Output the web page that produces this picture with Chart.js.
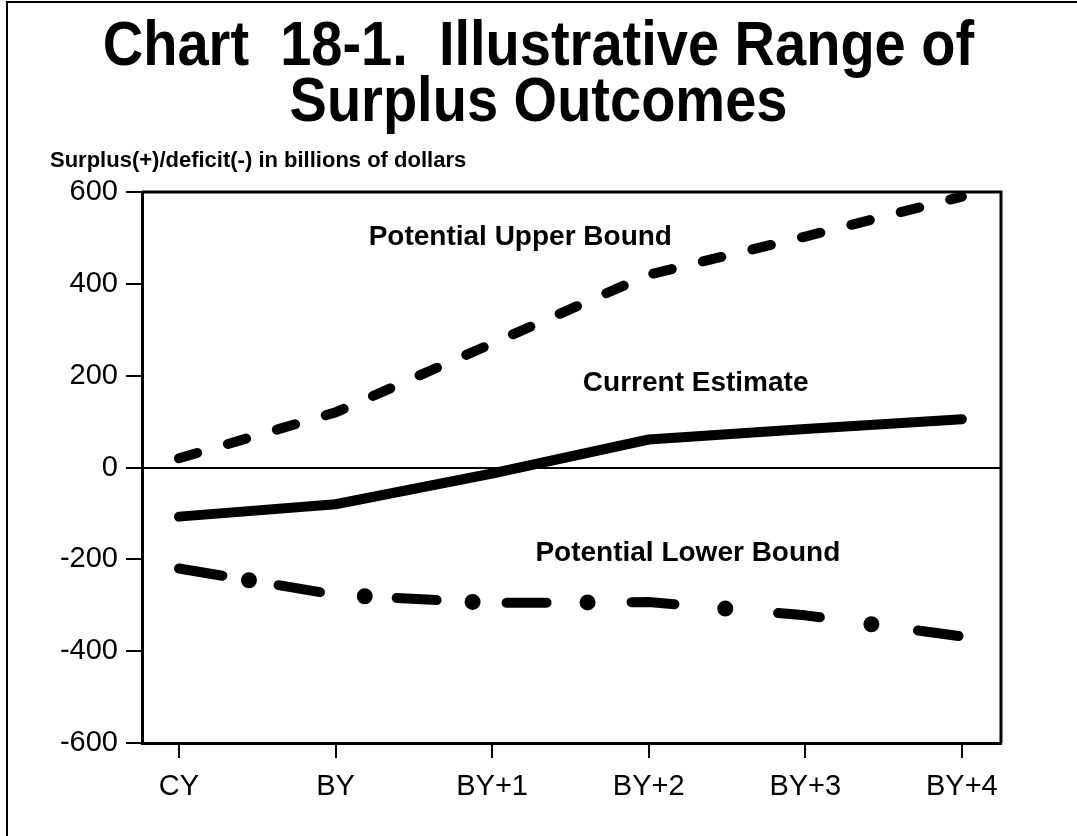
<!DOCTYPE html>
<html>
<head>
<meta charset="utf-8">
<script src="https://cdn.jsdelivr.net/npm/chart.js@4/dist/chart.umd.min.js"></script>
<style>
  html, body { margin: 0; padding: 0; background: #fff; }
  body { width: 1077px; height: 836px; position: relative; overflow: hidden; font-family: 'Liberation Sans', Arial, sans-serif; }
  #frame { position: absolute; left: 6px; top: 1px; width: 1200px; height: 900px; border-left: 2px solid #000; border-top: 2px solid #000; }
  #title { position: absolute; left: 0; top: 16px; width: 1077px; text-align: center; font-weight: bold; font-size: 56px; line-height: 50px; color: #000; transform: scaleY(1.12); transform-origin: 50% 0; }
  #subtitle { position: absolute; left: 50px; top: 149px; font-weight: bold; font-size: 22px; line-height: 22px; color: #000; white-space: nowrap; }
  canvas { position: absolute; left: 0; top: 0; }
</style>
</head>
<body>
<div id="frame"></div>
<canvas id="c" width="1077" height="836"></canvas>
<div id="title">Chart&nbsp; 18-1.&nbsp; Illustrative Range of<br>Surplus Outcomes</div>
<div id="subtitle">Surplus(+)/deficit(-) in billions of dollars</div>
<script>
const categories = ['CY', 'BY', 'BY+1', 'BY+2', 'BY+3', 'BY+4'];
const upperBound = [20, 120, 270, 420, 503, 590];
const currentEstimate = [-107, -80, -13, 61, 84, 105];
const lowerBound = [-220, -277, -295, -293, -322, -368];
const yTicks = [-600, -400, -200, 0, 200, 400, 600];
const seriesLabels = ['Potential Upper Bound', 'Current Estimate', 'Potential Lower Bound'];

const pts = arr => arr.map((v, i) => ({ x: i, y: v }));
const FONT = "'Liberation Sans', Arial, sans-serif";

const boxPlugin = {
  id: 'box',
  afterDraw(chart) {
    const { ctx, chartArea: a } = chart;
    ctx.save();
    ctx.strokeStyle = '#000';
    ctx.lineWidth = 3;
    ctx.beginPath();
    ctx.moveTo(a.left, a.top);
    ctx.lineTo(a.right, a.top);
    ctx.lineTo(a.right, a.bottom);
    ctx.stroke();
    ctx.restore();
  }
};

const labelPlugin = {
  id: 'seriesLabels',
  afterDatasetsDraw(chart, args, opts) {
    const { ctx, scales } = chart;
    ctx.save();
    ctx.fillStyle = '#000';
    ctx.font = 'bold 28px ' + FONT;
    ctx.textAlign = 'center';
    ctx.textBaseline = 'middle';
    opts.items.forEach(it => {
      ctx.fillText(it.text, scales.x.getPixelForValue(it.x), scales.y.getPixelForValue(it.y));
    });
    ctx.restore();
  }
};

new Chart(document.getElementById('c'), {
  type: 'line',
  data: {
    datasets: [
      {
        label: seriesLabels[0],
        data: pts(upperBound),
        borderColor: '#000',
        borderWidth: 10,
        borderDash: [19, 32],
        borderCapStyle: 'round',
        borderJoinStyle: 'round',
        pointRadius: 0,
        tension: 0,
        fill: false
      },
      {
        label: seriesLabels[1],
        data: pts(currentEstimate),
        borderColor: '#000',
        borderWidth: 10,
        borderCapStyle: 'round',
        borderJoinStyle: 'round',
        pointRadius: 0,
        tension: 0,
        fill: false
      },
      {
        label: seriesLabels[2],
        data: pts(lowerBound),
        borderColor: '#000',
        borderWidth: 10,
        borderDash: [44, 57, 42, 77, 40, 70, 40, 85, 43, 104, 42, 99, 41, 1000],
        borderCapStyle: 'round',
        borderJoinStyle: 'round',
        pointRadius: 0,
        tension: 0,
        fill: false
      },
      {
        label: seriesLabels[2] + ' (dots)',
        data: pts(lowerBound),
        borderColor: '#000',
        borderWidth: 16,
        borderDash: [0, 117, 0, 108, 0, 115, 0, 138, 0, 147, 0, 1000],
        borderDashOffset: -71,
        borderCapStyle: 'round',
        borderJoinStyle: 'round',
        pointRadius: 0,
        tension: 0,
        fill: false
      }
    ]
  },
  options: {
    responsive: false,
    animation: false,
    devicePixelRatio: 1,
    layout: { padding: { top: 192, right: 76, left: 0, bottom: 0 } },
    plugins: {
      legend: { display: false },
      tooltip: { enabled: false },
      title: { display: false },
      seriesLabels: {
        items: [
          { text: seriesLabels[0], x: 2.18, y: 502 },
          { text: seriesLabels[1], x: 3.30, y: 184 },
          { text: seriesLabels[2], x: 3.25, y: -186 }
        ]
      }
    },
    scales: {
      x: {
        type: 'linear',
        min: -0.236,
        max: 5.25,
        afterFit(scale) { scale.height = 93; },
        afterBuildTicks(scale) { scale.ticks = categories.map((c, i) => ({ value: i })); },
        ticks: {
          autoSkip: false,
          maxRotation: 0,
          padding: 12,
          color: '#000',
          font: { family: FONT, size: 29 },
          callback: v => categories[v]
        },
        grid: { drawOnChartArea: false, tickLength: 15, tickColor: '#000', tickWidth: 2, lineWidth: 2, color: '#000' },
        border: { display: true, color: '#000', width: 3 }
      },
      y: {
        type: 'linear',
        min: -600,
        max: 600,
        afterFit(scale) { scale.width = 142; },
        afterBuildTicks(scale) { scale.ticks = yTicks.map(v => ({ value: v })); },
        ticks: {
          padding: 8,
          color: '#000',
          font: { family: FONT, size: 29 },
          callback: v => String(v)
        },
        grid: {
          drawOnChartArea: true,
          tickLength: 16,
          tickColor: '#000',
          tickWidth: 2,
          lineWidth: 2,
          color: ctx => (ctx.tick && ctx.tick.value === 0) ? '#000' : 'rgba(0,0,0,0)'
        },
        border: { display: true, color: '#000', width: 3 }
      }
    }
  },
  plugins: [boxPlugin, labelPlugin]
});
</script>
</body>
</html>
